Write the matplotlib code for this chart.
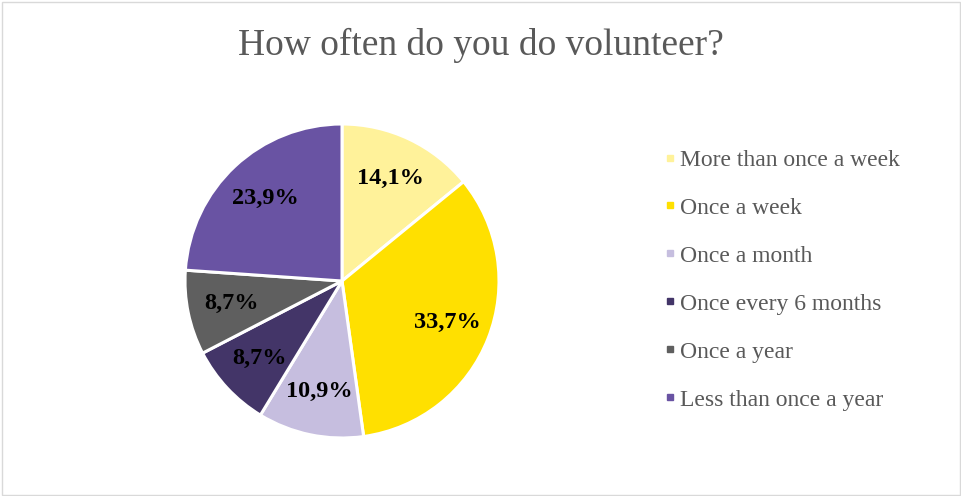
import matplotlib
matplotlib.use("Agg")
import matplotlib.pyplot as plt
from matplotlib.lines import Line2D
from matplotlib.patches import Rectangle

# Survey answers and shares (percent)
categories = ["More than once a week", "Once a week", "Once a month",
              "Once every 6 months", "Once a year", "Less than once a year"]
shares = [14.1, 33.7, 10.9, 8.7, 8.7, 23.9]
colors = ["#FFF29A", "#FFE000", "#C6BEDF", "#433568", "#5F5F5F", "#6953A3"]

W, H = 961, 496
plt.rcParams["font.family"] = ["Liberation Serif", "DejaVu Serif"]
fig = plt.figure(figsize=(W / 100, H / 100), dpi=100)

# thin grey chart border
fig.patches.append(Rectangle((1.5 / W, 1.5 / H), (W - 3) / W, (H - 3) / H,
                             transform=fig.transFigure, fill=False,
                             edgecolor="#D9D9D9", linewidth=1.0))

fig.text(481 / W, 1 - 45 / H, "How often do you do volunteer?",
         ha="center", va="center", fontsize=27, color="#595959")

# pie axes: centre (342, 281) px, radius 157 px
cx, cy, r = 342, 281, 157
ax = fig.add_axes([(cx - r) / W, (H - cy - r) / H, 2 * r / W, 2 * r / H])
wedges, texts, autotexts = ax.pie(
    shares, colors=colors, startangle=90, counterclock=False,
    autopct=lambda p: f"{p:.1f}".replace(".", ",") + "%",
    pctdistance=0.72,
    wedgeprops=dict(edgecolor="white", linewidth=2.2),
    textprops=dict(fontsize=17.5, fontweight="bold", color="black"))
ax.set_xlim(-1, 1)
ax.set_ylim(-1, 1)
ax.set_aspect("equal")

handles = [Line2D([], [], marker="s", linestyle="none", markersize=5,
                  markerfacecolor=c, markeredgecolor=c) for c in colors]
fig.legend(handles, categories, loc="upper left",
           bbox_to_anchor=(643 / W, 1 - 128 / H), frameon=False,
           fontsize=17, labelcolor="#595959", handlelength=0.5,
           handletextpad=0.18, labelspacing=1.12)

fig.savefig("out.png", dpi=100)
